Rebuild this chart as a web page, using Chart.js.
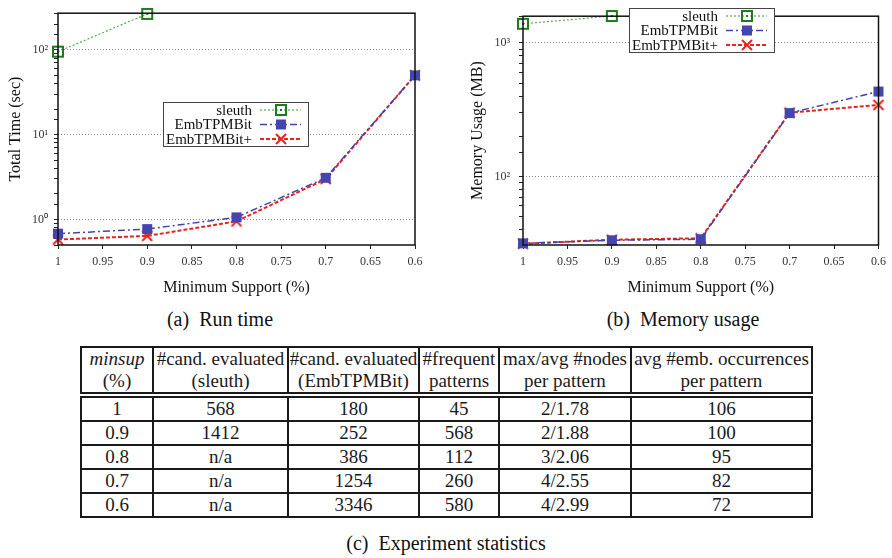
<!DOCTYPE html>
<html>
<head>
<meta charset="utf-8">
<script src="https://cdn.jsdelivr.net/npm/chart.js@4.4.0/dist/chart.umd.min.js"></script>
<style>
  body { margin:0; width:892px; height:558px; background:#fff; position:relative; overflow:hidden;
         font-family:"Liberation Serif", "Times New Roman", "DejaVu Serif", serif; color:#111; }
  .box { position:absolute; top:0; width:446px; height:300px; }
  #boxTime { left:0; }
  #boxMem { left:446px; }
  .cap { position:absolute; font-size:20px; white-space:nowrap; transform:translate(-50%,-50%); }
  table { position:absolute; left:80px; top:346px; border-collapse:collapse; font-size:19px;
          text-align:center; color:#1a1a1a; }
  th, td { border:2px solid #1a1a1a; padding:0; font-weight:normal; line-height:22px; }
  thead th { height:44px; }
  thead tr { border-bottom:6px double #1a1a1a; }
  tbody td { height:22px; }
</style>
</head>
<body>
<div class="box" id="boxTime"><canvas id="chartTime"></canvas></div>
<div class="box" id="boxMem"><canvas id="chartMem"></canvas></div>
<div class="cap" style="left:220px;top:319px">(a)&nbsp; Run time</div>
<div class="cap" style="left:683px;top:319px">(b)&nbsp; Memory usage</div>

<table>
  <colgroup>
    <col style="width:72px"><col style="width:135px"><col style="width:131px">
    <col style="width:80px"><col style="width:132px"><col style="width:181px">
  </colgroup>
  <thead>
    <tr>
      <th><i>minsup</i><br>(%)</th>
      <th>#cand. evaluated<br>(sleuth)</th>
      <th>#cand. evaluated<br>(EmbTPMBit)</th>
      <th>#frequent<br>patterns</th>
      <th>max/avg #nodes<br>per pattern</th>
      <th>avg #emb. occurrences<br>per pattern</th>
    </tr>
  </thead>
  <tbody id="tabBody"></tbody>
</table>
<div class="cap" style="left:446px;top:543px">(c)&nbsp; Experiment statistics</div>

<script>
// Dados
const suportes = [1, 0.9, 0.8, 0.7, 0.6];
const seriesNomes = ['sleuth', 'EmbTPMBit', 'EmbTPMBit+'];

const tempoSleuth = [95, 265];
const tempoBit    = [0.68, 0.77, 1.06, 3.1, 50];
const tempoBitP   = [0.58, 0.64, 0.95, 3.0, 50];

const memSleuth = [1390, 1590];
const memBit    = [31.5, 33.2, 33.8, 298, 432];
const memBitP   = [31.3, 33.5, 34.4, 300, 343];

// tabela (c)
const tabMinsup  = ['1', '0.9', '0.8', '0.7', '0.6'];
const tabCandSl  = ['568', '1412', 'n/a', 'n/a', 'n/a'];
const tabCandBit = ['180', '252', '386', '1254', '3346'];
const tabFreq    = ['45', '568', '112', '260', '580'];
const tabNodes   = ['2/1.78', '2/1.88', '3/2.06', '4/2.55', '4/2.99'];
const tabEmb     = ['106', '100', '95', '82', '72'];

const tbody = document.getElementById('tabBody');
tabMinsup.forEach((m, i) => {
  const tr = document.createElement('tr');
  [m, tabCandSl[i], tabCandBit[i], tabFreq[i], tabNodes[i], tabEmb[i]].forEach(v => {
    const td = document.createElement('td');
    td.textContent = v;
    tr.appendChild(td);
  });
  tbody.appendChild(tr);
});

const FONT = '"Liberation Serif", "Times New Roman", serif';
const sup = { '0': '\u2070', '1': '\u00b9', '2': '\u00b2', '3': '\u00b3' };
const isDecade = v => Math.abs(Math.log10(v) - Math.round(Math.log10(v))) < 1e-6;

// marcadores
function desenhaMarca(ctx, tipo, x, y) {
  ctx.save();
  ctx.setLineDash([]);
  if (tipo === 'open') {
    ctx.strokeStyle = '#1d7a1d'; ctx.lineWidth = 2;
    ctx.strokeRect(x - 5, y - 5, 10, 10);
    ctx.fillStyle = '#1d7a1d';
    ctx.fillRect(x - 1, y - 1, 2, 2);
  } else if (tipo === 'square') {
    ctx.fillStyle = '#4545b0';
    ctx.fillRect(x - 5, y - 5, 10, 10);
  } else {
    ctx.strokeStyle = '#e5261c'; ctx.lineWidth = 2;
    ctx.beginPath();
    ctx.moveTo(x - 5, y - 5); ctx.lineTo(x + 5, y + 5);
    ctx.moveTo(x + 5, y - 5); ctx.lineTo(x - 5, y + 5);
    ctx.stroke();
  }
  ctx.restore();
}
function marcaCanvas(tipo) {
  const c = document.createElement('canvas');
  c.width = 14; c.height = 14;
  desenhaMarca(c.getContext('2d'), tipo, 7, 7);
  return c;
}
const estilos = [
  { cor: '#5aa85a', dash: [2, 2], largura: 1.2, marca: 'open' },
  { cor: '#4343ad', dash: [7, 3, 2, 3], largura: 1.5, marca: 'square' },
  { cor: '#e5261c', dash: [4, 2], largura: 2, marca: 'cross' }
];

function pontos(vals) {
  return vals.map((v, i) => ({ x: suportes[i], y: v }));
}

function criaDatasets(listas) {
  return listas.map((vals, k) => ({
    label: seriesNomes[k],
    data: pontos(vals),
    borderColor: estilos[k].cor,
    borderDash: estilos[k].dash,
    borderWidth: estilos[k].largura,
    pointStyle: marcaCanvas(estilos[k].marca),
    pointRadius: 5,
    fill: false,
    tension: 0,
    clip: false
  }));
}

// moldura + legenda no estilo gnuplot
function pluginMoldura(leg) {
  return {
    id: 'moldura',
    afterDraw(chart) {
      const { ctx, chartArea: a } = chart;
      ctx.save();
      ctx.strokeStyle = '#111';
      ctx.lineWidth = 1.5;
      ctx.setLineDash([]);
      ctx.strokeRect(a.left, a.top, a.right - a.left, a.bottom - a.top);

      ctx.fillStyle = '#fff';
      ctx.fillRect(leg.x, leg.y, 145, 44);
      ctx.strokeStyle = '#444';
      ctx.lineWidth = 1;
      ctx.strokeRect(leg.x + 0.5, leg.y + 0.5, 145, 44);
      ctx.font = '15px ' + FONT;
      ctx.textAlign = 'right';
      ctx.textBaseline = 'middle';
      const linhas = [8, 22.5, 37];
      chart.data.datasets.forEach((ds, k) => {
        const y = leg.y + linhas[k];
        ctx.fillStyle = '#111';
        ctx.fillText(ds.label, leg.x + 89, y + 1);
        ctx.strokeStyle = ds.borderColor;
        ctx.lineWidth = ds.borderWidth;
        ctx.setLineDash(ds.borderDash);
        ctx.beginPath();
        ctx.moveTo(leg.x + 97, y);
        ctx.lineTo(leg.x + 138, y);
        ctx.stroke();
        desenhaMarca(ctx, estilos[k].marca, leg.x + 118, y);
      });
      ctx.restore();
    }
  };
}

function criaGrafico(id, listas, cfg) {
  new Chart(document.getElementById(id), {
    type: 'line',
    data: { datasets: criaDatasets(listas) },
    options: {
      responsive: true,
      maintainAspectRatio: false,
      animation: false,
      layout: { padding: { left: 0, top: 5, right: cfg.padRight, bottom: 0 } },
      plugins: { legend: { display: false }, tooltip: { enabled: false } },
      scales: {
        x: {
          type: 'linear',
          reverse: true,
          min: 0.6,
          max: 1,
          afterFit: s => { s.height = 55; },
          border: { display: false },
          grid: { drawOnChartArea: false, drawTicks: true, tickLength: 4, tickColor: '#222' },
          ticks: {
            stepSize: 0.05,
            autoSkip: false,
            maxRotation: 0,
            padding: 6,
            color: '#333',
            font: { family: FONT, size: 12 },
            callback: v => String(+v.toFixed(2))
          },
          title: {
            display: true,
            text: 'Minimum Support (%)',
            color: '#111',
            font: { family: FONT, size: 16 },
            padding: { top: 0, bottom: 3 }
          }
        },
        y: {
          type: 'logarithmic',
          min: cfg.min,
          max: cfg.max,
          afterFit: s => { s.width = cfg.axisW; },
          border: { display: false, dash: [1, 2] },
          grid: {
            color: c => (c.tick && isDecade(c.tick.value)) ? '#888' : 'rgba(0,0,0,0)',
            lineWidth: 1,
            drawTicks: true,
            tickLength: 4,
            tickColor: '#222',
            tickBorderDash: []
          },
          ticks: {
            autoSkip: false,
            padding: cfg.tickPad,
            color: '#333',
            font: { family: FONT, size: 12 },
            callback: v => {
              if (!isDecade(v)) return '';
              const e = Math.round(Math.log10(v));
              return '10' + sup[String(e)];
            }
          },
          title: {
            display: true,
            text: cfg.titulo,
            color: '#111',
            font: { family: FONT, size: 16 },
            padding: { top: cfg.titlePad, bottom: 0 }
          }
        }
      }
    },
    plugins: [pluginMoldura(cfg.legenda)]
  });
}

criaGrafico('chartTime', [tempoSleuth, tempoBit, tempoBitP], {
  min: 0.5, max: 270, padRight: 31, axisW: 58, tickPad: 6, titlePad: 6,
  titulo: 'Total Time (sec)', legenda: { x: 163, y: 102 }
});

criaGrafico('chartMem', [memSleuth, memBit, memBitP], {
  min: 30.6, max: 1585, padRight: 12, axisW: 77, tickPad: 9, titlePad: 22,
  titulo: 'Memory Usage (MB)', legenda: { x: 183, y: 8 }
});
</script>
</body>
</html>
